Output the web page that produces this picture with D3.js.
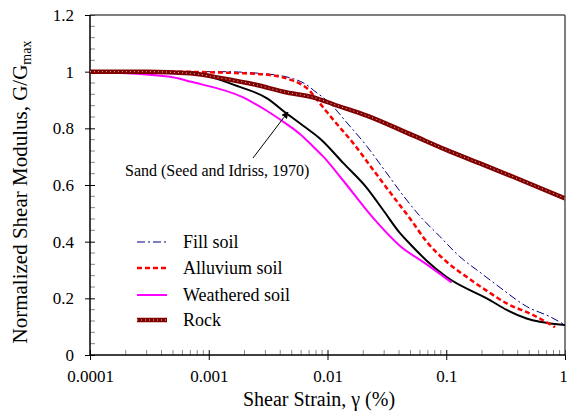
<!DOCTYPE html>
<html>
<head>
<meta charset="utf-8">
<script src="https://cdn.jsdelivr.net/npm/d3@7"></script>
<style>
  html, body { margin: 0; padding: 0; background: #fff; }
  svg { display: block; }
  text { font-family: "Liberation Serif", "Times New Roman", serif; fill: #000; }
</style>
</head>
<body>
<svg id="chart" width="568" height="414"></svg>
<script>
// ---- data (shear strain in %, G/Gmax) ----
const fillX = [0.0001, 0.0005, 0.00124, 0.0027, 0.00516, 0.00686, 0.0076, 0.0105, 0.0149, 0.0207, 0.0305, 0.0441, 0.0601, 0.0885, 0.130, 0.192, 0.284, 0.476, 0.748, 1.0];
const fillY = [1.0, 1.0, 1.0, 0.994, 0.975, 0.950, 0.935, 0.888, 0.815, 0.745, 0.65, 0.559, 0.49, 0.418, 0.347, 0.292, 0.238, 0.171, 0.135, 0.106];

const alluviumX = [0.0001, 0.0005, 0.001, 0.002, 0.003, 0.004, 0.005, 0.006, 0.007, 0.008, 0.01, 0.0112, 0.0165, 0.0243, 0.0358, 0.0495, 0.0684, 0.1007, 0.148, 0.226, 0.323, 0.541, 0.824];
const alluviumY = [1.0, 1.0, 0.998, 0.994, 0.99, 0.982, 0.97, 0.955, 0.935, 0.905, 0.855, 0.83, 0.747, 0.653, 0.559, 0.482, 0.400, 0.329, 0.276, 0.223, 0.182, 0.141, 0.098];

const weatheredX = [0.0001, 0.000472, 0.000695, 0.00195, 0.00308, 0.00453, 0.00586, 0.00759, 0.00922, 0.0136, 0.0235, 0.0408, 0.0684, 0.111];
const weatheredY = [1.0, 0.982, 0.965, 0.909, 0.862, 0.815, 0.780, 0.735, 0.700, 0.615, 0.490, 0.385, 0.320, 0.256];

const rockX = [0.0001, 0.0003, 0.0007, 0.00132, 0.00254, 0.00425, 0.0081, 0.0112, 0.0214, 0.0525, 0.1, 0.19, 0.365, 1.0];
const rockY = [1.0, 1.0, 0.994, 0.976, 0.953, 0.929, 0.906, 0.885, 0.845, 0.775, 0.724, 0.677, 0.629, 0.553];

const sandX = [0.0001, 0.0003, 0.0007, 0.0018, 0.0031, 0.0045, 0.0062, 0.0089, 0.0136, 0.0214, 0.0296, 0.0408, 0.05, 0.0684, 0.1, 0.233, 0.323, 0.475, 0.615, 1.0];
const sandY = [1.0, 1.0, 0.994, 0.947, 0.906, 0.853, 0.81, 0.759, 0.677, 0.59, 0.51, 0.43, 0.39, 0.333, 0.276, 0.194, 0.159, 0.129, 0.117, 0.106];

const xTicks = [0.0001, 0.001, 0.01, 0.1, 1];
const xTickLabels = ["0.0001", "0.001", "0.01", "0.1", "1"];
const yTicks = [0, 0.2, 0.4, 0.6, 0.8, 1, 1.2];
const yTickLabels = ["0", "0.2", "0.4", "0.6", "0.8", "1", "1.2"];
const legendLabels = ["Fill soil", "Alluvium soil", "Weathered soil", "Rock"];
const annotationText = "Sand (Seed and Idriss, 1970)";

// ---- layout ----
const svg = d3.select("#chart");
const L = 90, R = 565, T = 15, B = 355;
const x = d3.scaleLog().domain([0.0001, 1]).range([L, R]);
const y = d3.scaleLinear().domain([0, 1.2]).range([B, T]);

const defs = svg.append("defs");
defs.append("clipPath").attr("id", "clip")
  .append("rect").attr("x", L).attr("y", T).attr("width", R - L).attr("height", B - T);
defs.append("marker").attr("id", "arrow")
  .attr("viewBox", "0 0 10 10").attr("refX", 9).attr("refY", 5)
  .attr("markerWidth", 7).attr("markerHeight", 7).attr("orient", "auto-start-reverse")
  .attr("markerUnits", "userSpaceOnUse")
  .append("path").attr("d", "M0,0 L10,5 L0,10 z").attr("fill", "#000");

// minor ticks
const yMinor = d3.range(0, 1.2001, 0.04).filter(v => Math.abs(v / 0.2 - Math.round(v / 0.2)) > 1e-6);
svg.append("g").selectAll("line").data(yMinor).join("line")
  .attr("x1", L).attr("x2", L + 5).attr("y1", d => y(d)).attr("y2", d => y(d))
  .attr("stroke", "#888").attr("stroke-width", 1);
const xMinor = [];
[0.0001, 0.001, 0.01, 0.1].forEach(dec => { for (let k = 2; k <= 9; k++) xMinor.push(dec * k); });
svg.append("g").selectAll("line").data(xMinor).join("line")
  .attr("x1", d => x(d)).attr("x2", d => x(d)).attr("y1", B).attr("y2", B - 5)
  .attr("stroke", "#888").attr("stroke-width", 1);

// axes
const xAxis = d3.axisBottom(x).tickValues(xTicks).tickFormat((d, i) => xTickLabels[i])
  .tickSizeInner(5).tickSizeOuter(0).tickPadding(10);
const gx = svg.append("g").attr("transform", `translate(0,${B})`).call(xAxis);
gx.selectAll(".tick line").attr("y1", -5).attr("y2", 5).attr("stroke", "#000");
gx.select(".domain").remove();
gx.selectAll("text").attr("font-size", 17).attr("font-family", "Liberation Serif").attr("fill", "#000")
  .attr("dx", d => d === 1 ? -2 : 0);

const yAxis = d3.axisLeft(y).tickValues(yTicks).tickFormat((d, i) => yTickLabels[i])
  .tickSizeInner(5).tickSizeOuter(0).tickPadding(11);
const gy = svg.append("g").attr("transform", `translate(${L},0)`).call(yAxis);
gy.selectAll(".tick line").attr("x1", -5).attr("x2", 5).attr("stroke", "#000");
gy.select(".domain").remove();
gy.selectAll("text").attr("font-size", 17).attr("font-family", "Liberation Serif").attr("fill", "#000");

// frame
svg.append("line").attr("x1", L).attr("x2", R).attr("y1", T).attr("y2", T).attr("stroke", "#555").attr("stroke-width", 1.5);
svg.append("line").attr("x1", R).attr("x2", R).attr("y1", T).attr("y2", B).attr("stroke", "#555").attr("stroke-width", 1.5);
svg.append("line").attr("x1", L).attr("x2", L).attr("y1", T).attr("y2", B + 0.75).attr("stroke", "#000").attr("stroke-width", 1.5);
svg.append("line").attr("x1", L).attr("x2", R).attr("y1", B).attr("y2", B).attr("stroke", "#000").attr("stroke-width", 1.5);

// curves
const line = d3.line().x(d => x(d[0])).y(d => y(d[1])).curve(d3.curveMonotoneX);
const zip = (a, b) => a.map((v, i) => [v, b[i]]);
const plot = svg.append("g").attr("clip-path", "url(#clip)");

const styles = {
  fill: { stroke: "#000080", width: 1, dash: "8,3,2,3" },
  alluvium: { stroke: "#ff0000", width: 2.5, dash: "5,3" },
  weathered: { stroke: "#ff00ff", width: 2, dash: null },
  sand: { stroke: "#000000", width: 2, dash: null }
};

function drawRock(g, d) {
  g.append("path").attr("d", d).attr("fill", "none").attr("stroke", "#800000").attr("stroke-width", 4.5);
  g.append("path").attr("d", d).attr("fill", "none").attr("stroke", "#d9c0c0").attr("stroke-width", 1).attr("stroke-dasharray", "1,3");
}
function drawSimple(g, d, s) {
  const p = g.append("path").attr("d", d).attr("fill", "none").attr("stroke", s.stroke).attr("stroke-width", s.width);
  if (s.dash) p.attr("stroke-dasharray", s.dash);
}

drawSimple(plot, line(zip(sandX, sandY)), styles.sand);
drawSimple(plot, line(zip(weatheredX, weatheredY)), styles.weathered);
drawSimple(plot, line(zip(fillX, fillY)), styles.fill);
drawSimple(plot, line(zip(alluviumX, alluviumY)), styles.alluvium);
drawRock(plot, line(zip(rockX, rockY)));

// annotation
svg.append("line").attr("x1", 253).attr("y1", 158).attr("x2", 288).attr("y2", 112)
  .attr("stroke", "#000").attr("stroke-width", 1).attr("marker-end", "url(#arrow)");
svg.append("text").attr("x", 125).attr("y", 176).attr("font-size", 16).text(annotationText);

// legend
const legY = [242, 268, 295, 320];
const legStyles = [styles.fill, styles.alluvium, styles.weathered, null];
legendLabels.forEach((lab, i) => {
  const dd = `M137,${legY[i]}L167,${legY[i]}`;
  if (legStyles[i]) drawSimple(svg, dd, legStyles[i]); else drawRock(svg, dd);
  svg.append("text").attr("x", 183).attr("y", legY[i] + 6).attr("font-size", 18).text(lab);
});

// axis titles
svg.append("text").attr("x", 319).attr("y", 406).attr("text-anchor", "middle")
  .attr("font-size", 20).text("Shear Strain, γ (%)");
const yt = svg.append("text").attr("transform", "translate(27,192) rotate(-90)")
  .attr("text-anchor", "middle").attr("font-size", 21);
yt.append("tspan").text("Normalized Shear Modulus, G/G");
yt.append("tspan").attr("font-size", 14).attr("dy", 4).text("max");
</script>
</body>
</html>
